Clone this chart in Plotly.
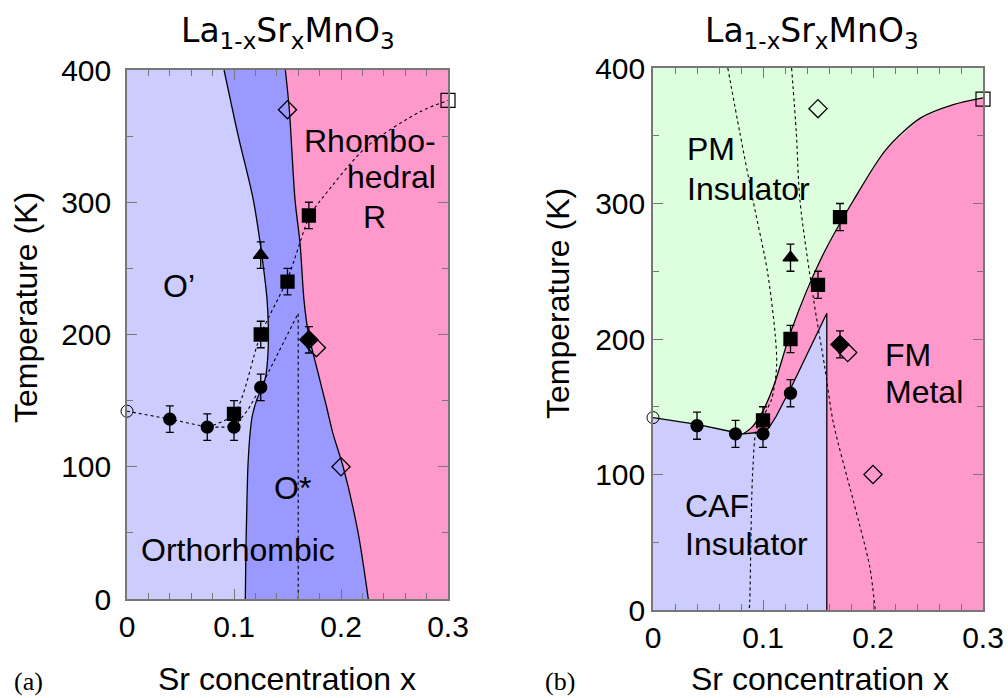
import plotly.graph_objects as go

# ---------------- measured points ----------------
# Neel / Curie / structural transition temperatures (K) vs Sr content x
circ_x = [0.04, 0.075, 0.1, 0.125]
circ_T = [136, 130, 130, 160]
circ_err = [10, 10, 10, 10]

sq_x = [0.1, 0.125, 0.15, 0.17]
sq_T = [140, 200, 240, 290]
sq_err = [10, 10, 10, 10]

tri_x = [0.125]
tri_T = [260]
tri_err = [10]

dia_x = [0.17]
dia_T = [196]
dia_err = [10]

odia_x = [0.15, 0.177, 0.2]
odia_T = [370, 190, 100]

ocirc_x = [0.0]
ocirc_T = [142]

osq_x = [0.3]
osq_T = [377]

# ---------------- panel (a): structural boundaries ----------------
b1_x = [0.0907, 0.104, 0.118, 0.126, 0.131, 0.132, 0.129, 0.121, 0.117, 0.115, 0.113, 0.112, 0.111, 0.1106]
b1_T = [400, 350, 302, 260, 225, 190, 166, 150, 138, 125, 100, 70, 30, 0]

b2_x = [0.148, 0.1517, 0.157, 0.1617, 0.1654, 0.1695, 0.177, 0.1866, 0.1925, 0.202, 0.216, 0.2255]
b2_T = [400, 370, 302, 269, 226, 201, 176, 145, 125, 100, 50, 0]

# dotted guides in panel (a)
ga_x = [0.0, 0.04, 0.075, 0.1, 0.113, 0.125, 0.16, 0.16]
ga_T = [142, 136, 130, 130, 143, 160, 216, 0]

gb_x = [0.075, 0.1, 0.125, 0.15, 0.171, 0.1834, 0.224, 0.274, 0.3]
gb_T = [130, 140, 200, 242, 290, 304, 342, 368.5, 377]

# ---------------- panel (b): magnetic / electronic boundaries ----------------
caf_top_x = [0.0, 0.04, 0.075, 0.082]
caf_top_T = [142, 137, 131, 130]

fm_top_x = [0.082, 0.09, 0.1, 0.11, 0.126, 0.152, 0.182, 0.212, 0.243, 0.273, 0.3]
fm_top_T = [130, 135, 147, 166, 207, 258, 302, 340, 363, 373, 378]

caf_fm_x = [0.082, 0.095, 0.105, 0.112, 0.126, 0.14, 0.158]
caf_fm_T = [130, 131, 134, 143, 165, 189, 219]
caf_edge_x = 0.158

# dotted structural lines carried over to panel (b)
d1_x = [0.068, 0.079, 0.091, 0.104, 0.111, 0.1124, 0.1076, 0.094, 0.0909, 0.0897, 0.088, 0.0875]
d1_T = [400, 352, 302, 250, 204, 180, 155, 133, 106, 81, 7, 0]

d2_x = [0.126, 0.1303, 0.1336, 0.146, 0.156, 0.164, 0.182, 0.197, 0.202]
d2_T = [400, 352, 302, 229, 180, 138, 81, 32, 0]

# ---------------- styling ----------------
LAV = "#ccccff"
BLUE = "#9999ff"
PINK = "#ff99cc"
GREEN = "#ddffdd"
FONT = "Liberation Sans, Arial, sans-serif"
TITLE_FONT = "DejaVu Sans, sans-serif"
AX = "#777777"

fig = go.Figure()


def poly(xs, ys, color, xa, ya):
    fig.add_trace(go.Scatter(x=xs, y=ys, mode="lines", fill="toself", fillcolor=color,
                             line=dict(width=0, color=color), hoverinfo="skip",
                             xaxis=xa, yaxis=ya))


def line(xs, ys, xa, ya, dash="solid", shape="spline", width=1.3):
    fig.add_trace(go.Scatter(x=xs, y=ys, mode="lines",
                             line=dict(color="black", width=width, dash=dash, shape=shape, smoothing=0.8),
                             hoverinfo="skip", xaxis=xa, yaxis=ya))


def markers(xs, ys, symbol, size, xa, ya, err=None, lw=1.3):
    kw = {}
    if err is not None:
        kw["error_y"] = dict(type="data", array=err, width=4, thickness=1.3, color="black")
    fig.add_trace(go.Scatter(x=xs, y=ys, mode="markers", cliponaxis=False,
                             marker=dict(symbol=symbol, size=size, color="black",
                                         line=dict(color="black", width=lw)),
                             xaxis=xa, yaxis=ya, **kw))


# ----- panel (a) regions -----
poly([0, 0] + b1_x, [0, 400] + b1_T, LAV, "x", "y")
poly(b1_x + b2_x[::-1], b1_T + b2_T[::-1], BLUE, "x", "y")
poly(b2_x + [0.3, 0.3], b2_T + [0, 400], PINK, "x", "y")
line(b1_x, b1_T, "x", "y")
line(b2_x, b2_T, "x", "y")
line(ga_x, ga_T, "x", "y", dash="dot", shape="linear", width=1.1)
line(gb_x, gb_T, "x", "y", dash="dot", width=1.1)

# ----- panel (b) regions -----
pm_x = [0, 0.3] + fm_top_x[::-1] + caf_top_x[::-1]
pm_T = [400, 400] + fm_top_T[::-1] + caf_top_T[::-1]
poly(pm_x, pm_T, GREEN, "x2", "y2")
fm_x = fm_top_x + [0.3, caf_edge_x] + caf_fm_x[::-1]
fm_T = fm_top_T + [0, 0] + caf_fm_T[::-1]
poly(fm_x, fm_T, PINK, "x2", "y2")
caf_x = [0] + caf_top_x + caf_fm_x + [caf_edge_x]
caf_T = [0] + caf_top_T + caf_fm_T + [0]
poly(caf_x, caf_T, LAV, "x2", "y2")
line(caf_top_x, caf_top_T, "x2", "y2", shape="linear")
line(fm_top_x, fm_top_T, "x2", "y2")
line(caf_fm_x + [caf_edge_x], caf_fm_T + [0], "x2", "y2", shape="linear")
line(d1_x, d1_T, "x2", "y2", dash="dot", width=1.1)
line(d2_x, d2_T, "x2", "y2", dash="dot", width=1.1)

# ----- data points in both panels -----
for xa, ya in (("x", "y"), ("x2", "y2")):
    markers(odia_x, odia_T, "diamond-open", 14, xa, ya)
    markers(circ_x, circ_T, "circle", 12, xa, ya, circ_err)
    markers(sq_x, sq_T, "square", 13, xa, ya, sq_err)
    markers(tri_x, tri_T, "triangle-up", 13, xa, ya, tri_err)
    markers(dia_x, dia_T, "diamond", 14, xa, ya, dia_err)
    markers(ocirc_x, ocirc_T, "circle-open", 12, xa, ya, lw=1)
    markers(osq_x, osq_T, "square-open", 14, xa, ya, lw=1.2)

W, H = 1008, 698


def xdom(a, b):
    return [a / W, b / W]


def ydom(top, bottom):
    return [(H - bottom) / H, (H - top) / H]


common_x = dict(range=[0, 0.3], tickvals=[0, 0.1, 0.2, 0.3], ticktext=["0", "0.1", "0.2", "0.3"],
                ticks="inside", ticklen=10, tickwidth=1.3, tickcolor=AX,
                showline=True, linecolor=AX, linewidth=1.5, mirror="allticks",
                showgrid=False, zeroline=False, automargin=False,
                tickfont=dict(family=FONT, size=30, color="black"),
                minor=dict(dtick=0.02, ticks="inside", ticklen=6, tickwidth=1.2, tickcolor=AX))
common_y = dict(range=[0, 400], tickvals=[0, 100, 200, 300, 400],
                ticks="inside", ticklen=10, tickwidth=1.3, tickcolor=AX,
                showline=True, linecolor=AX, linewidth=1.5, mirror="allticks",
                showgrid=False, zeroline=False, automargin=False,
                tickfont=dict(family=FONT, size=30, color="black"),
                minor=dict(dtick=50, ticks="inside", ticklen=6, tickwidth=1.2, tickcolor=AX))

fig.update_layout(
    width=W, height=H, margin=dict(l=0, r=0, t=0, b=0, autoexpand=False),
    paper_bgcolor="white", plot_bgcolor="white", showlegend=False,
    font=dict(family=FONT, color="black"),
    xaxis=dict(common_x, domain=xdom(127, 448), anchor="y"),
    yaxis=dict(common_y, domain=ydom(70, 599), anchor="x", ticklabelstandoff=8),
    xaxis2=dict(common_x, domain=xdom(653, 983), anchor="y2"),
    yaxis2=dict(common_y, domain=ydom(68, 610), anchor="x2", ticklabelstandoff=0),
)

ann = []


def text(s, x, y, xref, yref, size=32, xanchor="center", yanchor="middle", family=FONT, angle=0, align="center"):
    ann.append(dict(text=s, x=x, y=y, xref=xref, yref=yref, showarrow=False,
                    xanchor=xanchor, yanchor=yanchor, align=align, textangle=angle,
                    font=dict(family=family, size=size, color="black")))


title = "La<sub>1-x</sub>Sr<sub>x</sub>MnO<sub>3</sub>"
text(title, 287.5 / W, (H - 32) / H, "paper", "paper", size=33, family=TITLE_FONT)
text(title, 811.5 / W, (H - 32) / H, "paper", "paper", size=33, family=TITLE_FONT)

text("Sr concentration x", 287 / W, (H - 679) / H, "paper", "paper")
text("Sr concentration x", 820 / W, (H - 679) / H, "paper", "paper")
text("Temperature (K)", 26 / W, (H - 308) / H, "paper", "paper", angle=-90)
text("Temperature (K)", 558 / W, (H - 304) / H, "paper", "paper", angle=-90)

text("(a)", 28 / W, (H - 681) / H, "paper", "paper", size=26, family="Liberation Serif, serif")
text("(b)", 560 / W, (H - 681) / H, "paper", "paper", size=26, family="Liberation Serif, serif")

# region labels, panel (a)
text("O’", 0.049, 237, "x", "y")
text("Rhombo-", 0.2905, 346, "x", "y", xanchor="right")
text("hedral", 0.2905, 319, "x", "y", xanchor="right")
text("R", 0.231, 289, "x", "y")
text("O*", 0.155, 84, "x", "y")
text("Orthorhombic", 0.104, 37, "x", "y")

# region labels, panel (b)
text("PM", 0.029, 340, "x2", "y2", xanchor="left")
text("Insulator", 0.029, 311, "x2", "y2", xanchor="left")
text("FM", 0.209, 188, "x2", "y2", xanchor="left")
text("Metal", 0.209, 161, "x2", "y2", xanchor="left")
text("CAF", 0.027, 77, "x2", "y2", xanchor="left")
text("Insulator", 0.027, 49, "x2", "y2", xanchor="left")

fig.update_layout(annotations=ann)

fig.write_html("out.html")
